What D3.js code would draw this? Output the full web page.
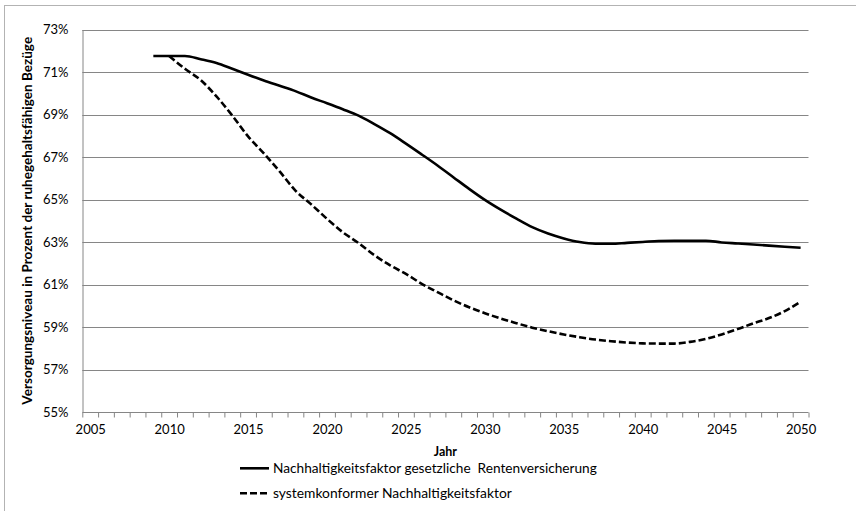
<!DOCTYPE html>
<html><head><meta charset="utf-8">
<script src="https://cdn.jsdelivr.net/npm/d3@7"></script>
<style>
html,body{margin:0;padding:0;background:#fff;overflow:hidden}
text{font-family:Lato,"Open Sans",sans-serif;fill:#000}
</style></head>
<body><svg id="c" width="856" height="511"></svg>
<script>
const years1 = [2009,2010,2011,2012,2013,2014,2015,2016,2017,2018,2019,2020,2021,2022,2023,2024,2025,2026,2027,2028,2029,2030,2031,2032,2033,2034,2035,2036,2037,2038,2039,2040,2041,2042,2043,2044,2045,2046,2047,2048,2049,2050];
const solidValues = [71.75,71.75,71.75,71.6,71.42,71.15,70.87,70.6,70.35,70.1,69.8,69.53,69.25,68.95,68.55,68.12,67.63,67.12,66.6,66.05,65.5,64.98,64.52,64.1,63.7,63.4,63.17,63.0,62.92,62.92,62.96,63.0,63.05,63.06,63.06,63.06,62.98,62.93,62.88,62.83,62.78,62.73];
const years2 = [2010,2011,2012,2013,2014,2015,2016,2017,2018,2019,2020,2021,2022,2023,2024,2025,2026,2027,2028,2029,2030,2031,2032,2033,2034,2035,2036,2037,2038,2039,2040,2041,2042,2043,2044,2045,2046,2047,2048,2049,2050];
const dashedValues = [71.75,71.15,70.62,69.85,68.95,67.97,67.17,66.32,65.42,64.77,64.09,63.46,62.95,62.38,61.9,61.5,61.03,60.64,60.26,59.93,59.65,59.4,59.18,58.97,58.8,58.65,58.52,58.41,58.33,58.27,58.23,58.22,58.22,58.3,58.44,58.65,58.9,59.17,59.42,59.75,60.19];
const yTicks = [55,57,59,61,63,65,67,69,71,73];
const xLabels = [2005,2010,2015,2020,2025,2030,2035,2040,2045,2050];
const seriesNames = ["Nachhaltigkeitsfaktor gesetzliche  Rentenversicherung","systemkonformer Nachhaltigkeitsfaktor"];
const yTitle = "Versorgungsniveau in Prozent der ruhegehaltsfähigen Bezüge";
const xTitle = "Jahr";

const svg = d3.select("#c");
const L = 82.3, R = 808.5, T = 29.5, B = 412;
const x = d3.scaleLinear().domain([2004.5, 2050.5]).range([L, R]);
const y = d3.scaleLinear().domain([55, 73]).range([B, T]);

// outer border
svg.append("rect").attr("x",4.5).attr("y",5.5).attr("width",900).attr("height",600)
  .attr("fill","none").attr("stroke","#b3b3b3").attr("stroke-width",1);

// gridlines
svg.append("g").selectAll("line").data(yTicks.filter(d=>d>55)).join("line")
  .attr("x1",L).attr("x2",R).attr("y1",d=>Math.round(y(d))+0.5).attr("y2",d=>Math.round(y(d))+0.5)
  .attr("stroke","#868686").attr("stroke-width",1);

// y axis
const yAxis = svg.append("g").attr("transform",`translate(${Math.round(L)+0.5},0)`)
  .call(d3.axisLeft(y).tickValues(yTicks).tickSize(0).tickPadding(14).tickFormat(d=>d+"%"));
yAxis.select(".domain").attr("stroke","#868686");
yAxis.selectAll("text").style("font-size","13px");

// x axis minor ticks
const minor = d3.range(2004.5, 2051, 1);
const xAxisMinor = svg.append("g").attr("transform",`translate(0,${Math.round(B)+0.5})`)
  .call(d3.axisBottom(x).tickValues(minor).tickSize(5).tickFormat(""));
xAxisMinor.selectAll("line,path").attr("stroke","#868686");
xAxisMinor.select(".domain").attr("d",`M${L},0H${R}`);
const xAxis = svg.append("g").attr("transform",`translate(0,${Math.round(B)})`)
  .call(d3.axisBottom(x).tickValues(xLabels).tickSize(0).tickPadding(13).tickFormat(d3.format("d")));
xAxis.select(".domain").remove();
xAxis.selectAll("text").style("font-size","13px");

// titles
svg.append("text").attr("x",(L+R)/2).attr("y",456).attr("text-anchor","middle")
  .style("font-weight","bold").style("font-size","12.5px").text(xTitle);
const yt = svg.append("text").attr("transform",`translate(32,${(T+B)/2}) rotate(-90)`)
  .attr("text-anchor","middle").style("font-weight","bold").style("font-size","12px").text(yTitle);
function fit(sel, target){ const w = sel.node().getComputedTextLength(); const fs = parseFloat(sel.style("font-size")); sel.style("font-size",(fs*target/w)+"px"); }
fit(yt, 368);

// lines
const line = d3.line().x(d=>x(d[0])).y(d=>y(d[1])).curve(d3.curveMonotoneX);
const s1 = years1.map((yr,i)=>[yr, solidValues[i]]);
const s2 = years2.map((yr,i)=>[yr, dashedValues[i]]);
svg.append("path").attr("d",line(s1)).attr("fill","none").attr("stroke","#000").attr("stroke-width",2.6);
svg.append("path").attr("d",line(s2)).attr("fill","none").attr("stroke","#000").attr("stroke-width",2.6)
  .attr("stroke-dasharray","7,3");

// legend
const leg = svg.append("g");
const legY = [468.3, 493.3];
seriesNames.forEach((n,i)=>{
  leg.append("line").attr("x1",240).attr("x2",269).attr("y1",legY[i]).attr("y2",legY[i])
    .attr("stroke","#000").attr("stroke-width",2.6).attr("stroke-dasharray", i===1 ? "7,3" : null);
  const t = leg.append("text").attr("x",273).attr("y",legY[i]).attr("dy","0.36em")
    .style("font-size","13px").style("white-space","pre").text(n);
  fit(t, i===0 ? 324 : 239);
});
</script></body></html>
